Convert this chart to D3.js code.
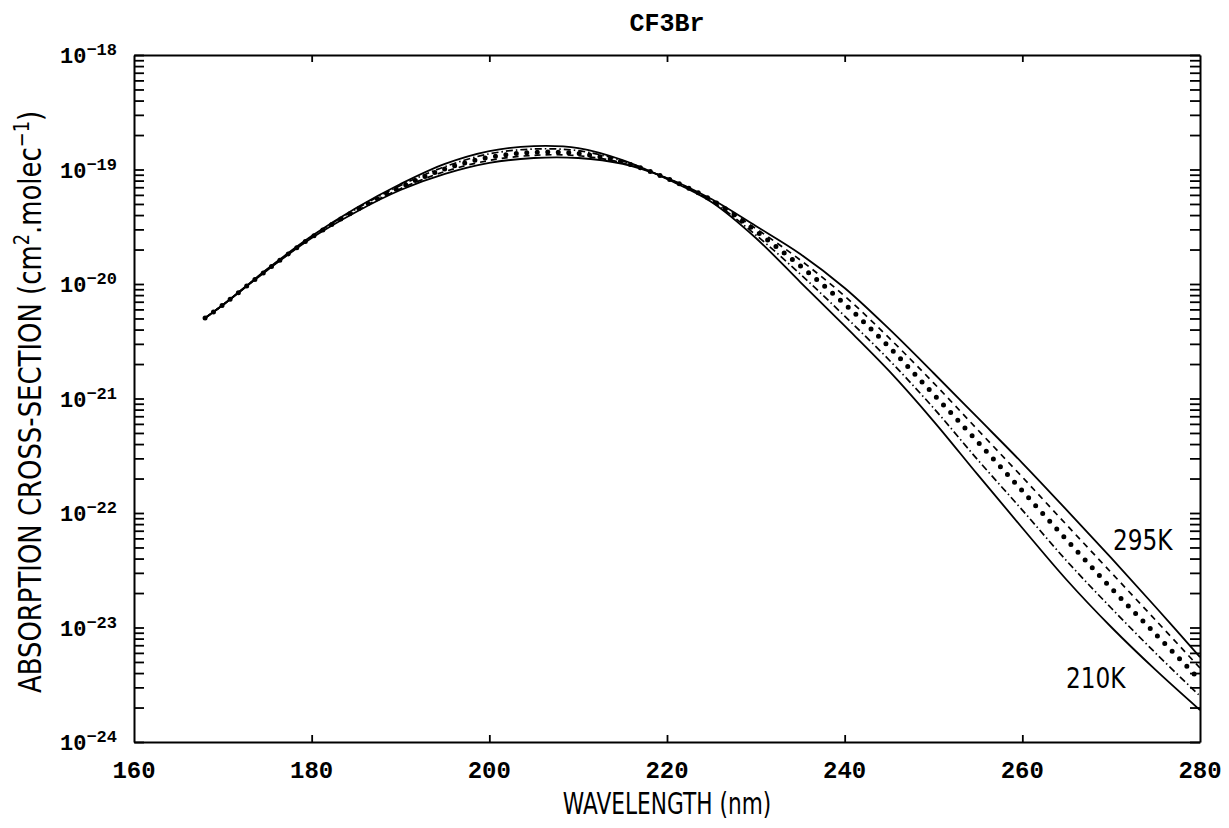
<!DOCTYPE html>
<html>
<head>
<meta charset="utf-8">
<script src="https://cdn.jsdelivr.net/npm/d3@7"></script>
<style>
  body { margin: 0; background: #fff; }
</style>
</head>
<body>
<div id="chart"></div>
<script>
// wavelength grid (nm) and cross-sections (cm2 molec-1)
const wavelengths = [168, 170, 175, 180, 185, 190, 195, 200, 205, 210, 215, 220,
  225, 230, 235, 240, 245, 250, 255, 260, 265, 270, 275, 280];

const sigma295 = [5.05e-21, 6.56e-21, 1.32e-20, 2.52e-20, 4.26e-20, 6.62e-20, 9.14e-20, 1.14e-19,
  1.26e-19, 1.26e-19, 1.12e-19, 8.43e-20, 5.52e-20, 3.21e-20, 1.83e-20, 9.23e-21, 4.05e-21,
  1.67e-21, 6.76e-22, 2.73e-22, 1.06e-22, 4.05e-23, 1.51e-23, 5.52e-24];
const sigma270 = [5.05e-21, 6.56e-21, 1.33e-20, 2.54e-20, 4.33e-20, 6.80e-20, 9.60e-20, 1.20e-19,
  1.33e-19, 1.32e-19, 1.14e-19, 8.40e-20, 5.42e-20, 3.05e-20, 1.62e-20, 7.85e-21, 3.38e-21,
  1.37e-21, 5.31e-22, 2.06e-22, 7.85e-23, 3.02e-23, 1.16e-23, 4.43e-24];
const sigma250 = [5.05e-21, 6.56e-21, 1.33e-20, 2.56e-20, 4.41e-20, 7.00e-20, 1.01e-19, 1.28e-19,
  1.41e-19, 1.38e-19, 1.16e-19, 8.35e-20, 5.42e-20, 2.90e-20, 1.44e-20, 6.69e-21, 2.82e-21,
  1.09e-21, 4.17e-22, 1.56e-22, 5.81e-23, 2.21e-23, 8.77e-24, 3.48e-24];
const sigma230 = [5.05e-21, 6.56e-21, 1.34e-20, 2.59e-20, 4.52e-20, 7.25e-20, 1.06e-19, 1.37e-19,
  1.51e-19, 1.46e-19, 1.19e-19, 8.30e-20, 5.31e-20, 2.68e-20, 1.22e-20, 5.25e-21, 2.17e-21,
  8.26e-22, 2.90e-22, 1.06e-22, 3.81e-23, 1.48e-23, 5.98e-24, 2.52e-24];
const sigma210 = [5.05e-21, 6.56e-21, 1.35e-20, 2.62e-20, 4.61e-20, 7.47e-20, 1.12e-19, 1.45e-19,
  1.60e-19, 1.54e-19, 1.21e-19, 8.26e-20, 5.20e-20, 2.52e-20, 1.04e-20, 4.30e-21, 1.74e-21,
  6.35e-22, 2.15e-22, 7.40e-23, 2.60e-23, 1.01e-23, 4.26e-24, 1.90e-24];

const xTicks = [160, 180, 200, 220, 240, 260, 280];
const yDecades = [-24, -23, -22, -21, -20, -19, -18];

const width = 1229, height = 828;
const margin = { top: 55, right: 29, bottom: 86, left: 134 };

const svg = d3.select("#chart").append("svg")
  .attr("width", width)
  .attr("height", height)
  .style("display", "block");

const x = d3.scaleLinear()
  .domain([160, 280])
  .range([margin.left, width - margin.right]);

const y = d3.scaleLog()
  .domain([1e-24, 1e-18])
  .range([height - margin.bottom, margin.top]);

// all log ticks 1..9 x 10^e
const logTicks = [];
yDecades.forEach((e) => {
  if (e === -18) { logTicks.push(1e-18); return; }
  for (let m = 1; m <= 9; m++) logTicks.push(+(m + "e" + e));
});

function styleAxis(g) {
  g.select(".domain").attr("stroke", "#000").attr("stroke-width", 2);
  g.selectAll(".tick line").attr("stroke", "#000").attr("stroke-width", 1.8);
}

const innerTicks = xTicks.slice(1, -1);

svg.append("g")
  .attr("transform", `translate(0,${y.range()[0]})`)
  .call(d3.axisBottom(x).tickValues(innerTicks).tickSize(-7).tickSizeOuter(0).tickFormat(""))
  .call(styleAxis);

svg.append("g")
  .attr("transform", `translate(0,${y.range()[1]})`)
  .call(d3.axisTop(x).tickValues(innerTicks).tickSize(-7).tickSizeOuter(0).tickFormat(""))
  .call(styleAxis);

svg.append("g")
  .attr("transform", `translate(${x.range()[0]},0)`)
  .call(d3.axisLeft(y).tickValues(logTicks).tickSize(-10).tickSizeOuter(0).tickFormat(""))
  .call(styleAxis);

svg.append("g")
  .attr("transform", `translate(${x.range()[1]},0)`)
  .call(d3.axisRight(y).tickValues(logTicks).tickSize(-10).tickSizeOuter(0).tickFormat(""))
  .call(styleAxis);

// x tick labels
svg.append("g")
  .selectAll("text")
  .data(xTicks)
  .join("text")
  .attr("x", (d) => x(d))
  .attr("y", y.range()[0] + 36)
  .attr("text-anchor", "middle")
  .attr("font-family", "Liberation Mono, Courier New, monospace")
  .attr("font-weight", "bold")
  .attr("font-size", 24)
  .text((d) => d);

// y tick labels 10^n
const yLab = svg.append("g")
  .selectAll("text")
  .data(yDecades)
  .join("text")
  .attr("x", x.range()[0] - 17)
  .attr("y", (d) => y(Math.pow(10, d)) + 8)
  .attr("text-anchor", "end")
  .attr("font-family", "Liberation Mono, Courier New, monospace")
  .attr("font-weight", "bold")
  .attr("font-size", 22);
yLab.append("tspan").text("10");
yLab.append("tspan")
  .attr("dy", -8)
  .attr("font-size", 17)
  .text((d) => "\u2212" + Math.abs(d));

// title
svg.append("text")
  .attr("x", (x.range()[0] + x.range()[1]) / 2)
  .attr("y", 31)
  .attr("text-anchor", "middle")
  .attr("font-family", "Liberation Mono, Courier New, monospace")
  .attr("font-weight", "bold")
  .attr("font-size", 25)
  .text("CF3Br");

// axis titles (narrow plotter lettering)
const sans = "DejaVu Sans, Verdana, sans-serif";

svg.append("g")
  .attr("transform", `translate(${(x.range()[0] + x.range()[1]) / 2},814) scale(0.7,1)`)
  .append("text")
  .attr("text-anchor", "middle")
  .attr("font-family", sans)
  .attr("font-size", 31)
  .text("WAVELENGTH (nm)");

const yTitle = svg.append("g")
  .attr("transform", `translate(41,402) rotate(-90) scale(0.81,1)`)
  .append("text")
  .attr("text-anchor", "middle")
  .attr("font-family", sans)
  .attr("font-size", 32);
yTitle.append("tspan").text("ABSORPTION CROSS-SECTION (cm");
yTitle.append("tspan").attr("dy", -12).attr("font-size", 22).text("2");
yTitle.append("tspan").attr("dy", 12).text(".molec");
yTitle.append("tspan").attr("dy", -12).attr("font-size", 22).text("\u22121");
yTitle.append("tspan").attr("dy", 12).text(")");

// curves
const series = [
  { name: "295K", values: sigma295, dash: null, width: 1.8, cap: "butt" },
  { name: "270K", values: sigma270, dash: "6 5", width: 1.7, cap: "butt" },
  { name: "250K", values: sigma250, dash: "0 10.5", width: 5, cap: "round" },
  { name: "230K", values: sigma230, dash: "7 3 1.5 3", width: 1.7, cap: "butt" },
  { name: "210K", values: sigma210, dash: null, width: 1.8, cap: "butt" },
];

const line = d3.line()
  .x((d) => x(d[0]))
  .y((d) => y(d[1]))
  .curve(d3.curveCatmullRom);

svg.append("g")
  .selectAll("path")
  .data(series)
  .join("path")
  .attr("d", (s) => line(wavelengths.map((w, i) => [w, s.values[i]])))
  .attr("fill", "none")
  .attr("stroke", "#000")
  .attr("stroke-width", (s) => s.width)
  .attr("stroke-linecap", (s) => s.cap)
  .attr("stroke-dasharray", (s) => s.dash);

// curve labels
const curveLabels = [
  { text: "295K", at: 1113, base: 550 },
  { text: "210K", at: 1066, base: 688 },
];
curveLabels.forEach((l) => {
  svg.append("g")
    .attr("transform", `translate(${l.at},${l.base}) scale(0.8,1)`)
    .append("text")
    .attr("font-family", sans)
    .attr("font-size", 29)
    .text(l.text);
});
</script>
</body>
</html>
